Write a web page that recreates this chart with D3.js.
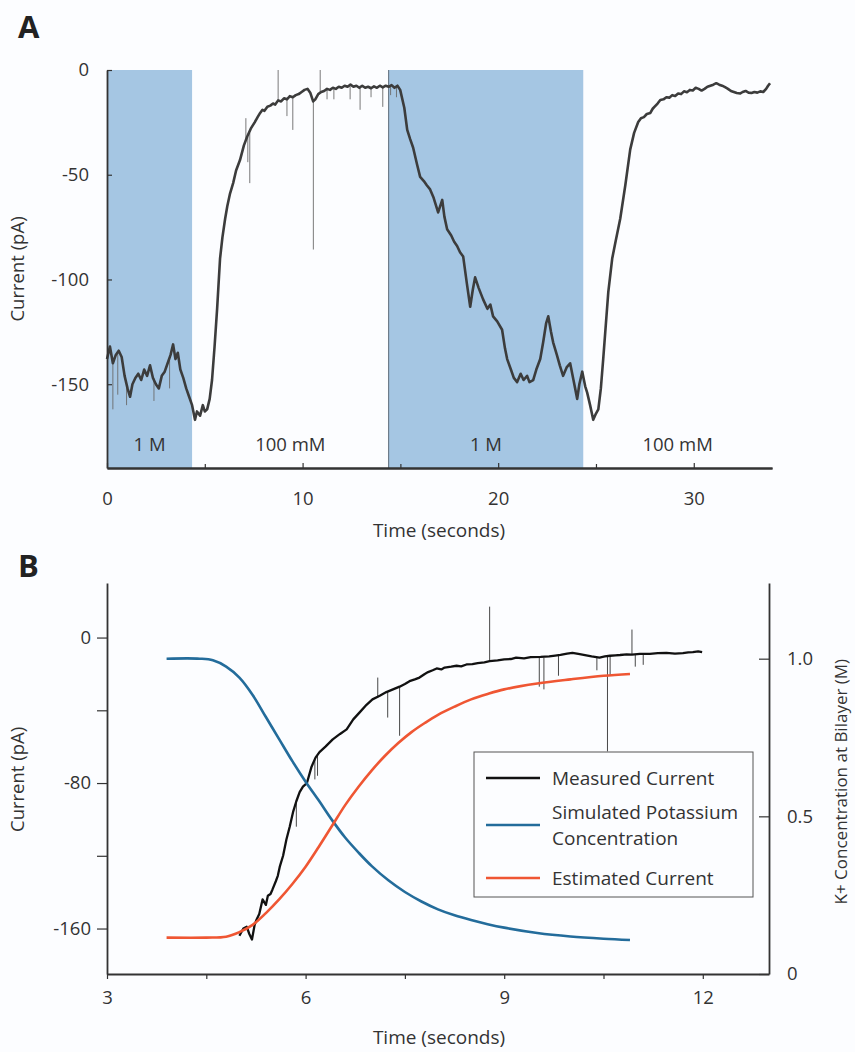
<!DOCTYPE html>
<html>
<head>
<meta charset="utf-8">
<script src="https://cdn.jsdelivr.net/npm/d3@7"></script>
<style>
  body { margin: 0; background: #fcfdff; }
  svg { display: block; font-family: "Open Sans", sans-serif; }
</style>
</head>
<body>
<svg id="chart"></svg>
<script>
// ---- Panel A data (time s, current pA) ----
const traceA = [
  [0.0,-138],[0.15,-132],[0.3,-140],[0.45,-136],[0.6,-134],[0.75,-137],[0.9,-146],[1.05,-152],
  [1.18,-156],[1.3,-150],[1.45,-147],[1.6,-145],[1.75,-148],[1.9,-143],[2.05,-146],[2.2,-141],
  [2.35,-147],[2.5,-150],[2.65,-152],[2.8,-146],[2.95,-144],[3.1,-140],[3.25,-136],[3.38,-131],
  [3.5,-138],[3.62,-135],[3.75,-143],[3.9,-147],[4.05,-152],[4.2,-156],[4.35,-160],[4.5,-167],
  [4.6,-163],[4.76,-165],[4.9,-160],[5.0,-163],[5.12,-162],[5.25,-157],[5.37,-148],[5.5,-132],
  [5.63,-114],[5.78,-90],[5.9,-80],[6.04,-71],[6.15,-65],[6.29,-59],[6.45,-54],[6.6,-48],
  [6.8,-43],[7.0,-36],[7.16,-32],[7.35,-28],[7.55,-25],[7.7,-22.5],
  [7.83,-20.5],[7.95,-19],[8.05,-19.5],[8.2,-17.5],[8.35,-17],[8.49,-16],[8.6,-16.5],[8.75,-14.5],
  [8.9,-15],[9.05,-13.5],[9.2,-14],[9.35,-12.5],[9.5,-13],[9.65,-12],[9.8,-11.5],[9.95,-10.5],
  [10.1,-9.5],[10.25,-9],[10.4,-11],[10.54,-15],[10.65,-14],[10.8,-11.5],[10.95,-10.5],[11.1,-10],
  [11.25,-9],[11.4,-9.5],[11.55,-8.5],[11.7,-9],[11.85,-8],[12.0,-8.5],[12.15,-7.5],[12.3,-8],
  [12.45,-7],[12.6,-8],[12.75,-7.5],[12.9,-8.5],[13.05,-7.5],[13.2,-8.5],[13.35,-8],[13.5,-8.7],
  [13.65,-7.8],[13.8,-8.5],[13.95,-7.5],[14.1,-8.3],[14.25,-7.5],[14.4,-8],[14.55,-7.2],[14.7,-8.5],
  [14.85,-7.5],[14.99,-9.5],[15.2,-18],[15.35,-28.6],[15.5,-33],[15.65,-37],[15.85,-45],
  [16.01,-51],[16.2,-53],[16.35,-55],[16.52,-57],[16.7,-61],[16.93,-68],[17.14,-62],[17.25,-70],
  [17.39,-76],[17.6,-79],[17.75,-82],[17.9,-84],[18.05,-87],[18.21,-89],[18.4,-102],[18.57,-113],
  [18.7,-105],[18.82,-99],[19.0,-104],[19.23,-109.5],[19.45,-114],[19.6,-112],[19.74,-117.6],[19.95,-120],
  [20.2,-124],[20.35,-133],[20.46,-138],[20.65,-143],[20.8,-147],[20.97,-149],[21.15,-145],[21.3,-148],
  [21.48,-146],[21.6,-149],[21.79,-148],[21.95,-143],[22.15,-138],[22.3,-130],[22.45,-121],[22.56,-117.6],
  [22.7,-125],[22.81,-130],[23.0,-136],[23.15,-141],[23.32,-146],[23.5,-142],[23.68,-140],[23.85,-148],
  [24.04,-157],[24.15,-150],[24.3,-144],[24.45,-151],[24.55,-154],[24.7,-160],[24.86,-167],[25.0,-164],
  [25.12,-162],[25.25,-152],[25.37,-138],[25.5,-122],[25.63,-106],[25.83,-90],[26.0,-82],[26.24,-71],
  [26.5,-55],[26.75,-38],[26.95,-30],[27.16,-24.8],[27.3,-23],[27.45,-22.5],[27.6,-21],[27.78,-20.5],
  [27.9,-18.5],[28.0,-17.5],[28.15,-16],[28.29,-14.3],[28.45,-14],[28.6,-13],[28.75,-13.2],[28.9,-12],
  [29.05,-12.4],[29.2,-11.2],[29.35,-11.5],[29.5,-10.2],[29.65,-10.6],[29.8,-9.5],[29.95,-9.8],[30.1,-8.5],
  [30.25,-9],[30.4,-9.8],[30.55,-9],[30.7,-8],[30.85,-7.5],[31.0,-7],[31.15,-6.3],[31.3,-7],
  [31.45,-7.5],[31.6,-8.2],[31.75,-9],[31.9,-10],[32.05,-10.5],[32.2,-11],[32.38,-11.2],[32.5,-10.5],
  [32.65,-10],[32.8,-10.8],[32.95,-11],[33.1,-10.5],[33.25,-10.8],[33.4,-10.2],[33.55,-10.5],[33.7,-9],
  [33.8,-7.5],[33.9,-6.3]
];
// spikes: [time, from, to]
const spikesA = [
  [0.3,-138,-162],[0.55,-135,-155],[1.0,-150,-160],[2.4,-147,-158],[3.2,-138,-152],
  [7.1,-33,-23],[7.3,-30,-54],[7.2,-32,-44],[8.75,-15,0],[9.2,-14,-22],[9.5,-13,-28.6],
  [10.55,-15,-85.7],[10.9,-11,0],[11.25,-9.5,-14],[11.6,-9,-14],[12.43,-8,-14],[12.94,-7.5,-19],
  [13.5,-8,-13],[14.1,-8,-17.6],[14.5,-7.8,-12],[14.8,-8,-13]
];
const regionsA = [[0, 4.35], [14.4, 24.35]];
const regionLabels = [["1 M", 0, 4.35], ["100 mM", 4.35, 14.4], ["1 M", 14.4, 24.35], ["100 mM", 24.35, 34]];
const yTicksA = [0, -50, -100, -150];
const xTicksA = [0, 10, 20, 30];
const xMinorA = [5, 15, 25];

// ---- Panel B data ----
const measuredB = [
  [5.0,-164],[5.06,-160],[5.11,-159],[5.15,-163],[5.19,-166],[5.23,-158],[5.26,-155],[5.3,-152],
  [5.35,-144],[5.4,-147],[5.43,-142],[5.47,-141],[5.5,-138.5],[5.55,-134],[5.58,-131],[5.61,-126],
  [5.66,-120],[5.71,-111],[5.76,-104],[5.81,-96],[5.86,-90],[5.91,-85],[5.96,-82],[6.02,-80],
  [6.09,-71],[6.15,-66],[6.21,-63],[6.3,-60],[6.41,-56],[6.52,-53],[6.62,-50.5],[6.72,-45],
  [6.82,-41],[6.92,-37],[7.01,-34],[7.12,-32],[7.22,-30],[7.32,-28.5],[7.42,-27],[7.5,-25.5],
  [7.57,-24],[7.65,-23],[7.72,-22],[7.8,-20],[7.85,-19],[7.92,-18],[7.98,-17],[8.05,-17.5],
  [8.1,-16.5],[8.2,-16],[8.28,-15.5],[8.35,-15.8],[8.43,-14.8],[8.52,-14.6],[8.6,-14],[8.7,-13.6],
  [8.78,-13],[8.9,-12.6],[9.0,-12],[9.1,-11.8],[9.18,-11],[9.3,-11.4],[9.4,-10.8],[9.55,-10.6],
  [9.68,-10.3],[9.77,-9.9],[9.85,-9.5],[9.95,-8.8],[10.03,-8.4],[10.12,-9],[10.2,-9.5],[10.32,-10.4],
  [10.44,-11],[10.52,-10.4],[10.6,-10],[10.68,-9.8],[10.75,-9.6],[10.85,-9.2],[10.93,-9.4],[11.05,-9],
  [11.2,-9],[11.32,-8.6],[11.45,-8.4],[11.58,-8.8],[11.7,-8.6],[11.78,-8.2],[11.85,-8],[11.93,-7.6],[11.99,-8]
];
const spikesB = [
  [5.86,-90,-104],[6.14,-67,-78],[6.18,-65,-76],[7.09,-33,-22],[7.24,-30,-44],[7.42,-27,-54],
  [8.78,-13,17],[9.53,-11,-27],[9.6,-11,-28.5],[9.82,-10,-21],[10.4,-11,-18],[10.56,-10,-62.6],
  [10.6,-10,-21],[10.93,-9.4,4.4],[10.98,-9.4,-16],[11.1,-9,-15]
];
const concB = [
  [3.9,1.0],[4.4,1.0],[4.6,0.995],[4.8,0.975],[5.0,0.94],[5.2,0.885],[5.4,0.815],[5.6,0.745],
  [5.8,0.675],[6.0,0.61],[6.2,0.55],[6.4,0.488],[6.6,0.432],[6.8,0.385],[7.0,0.342],[7.25,0.297],
  [7.5,0.26],[7.75,0.23],[8.0,0.205],[8.25,0.186],[8.5,0.171],[8.75,0.158],[9.0,0.147],[9.5,0.13],
  [10.0,0.119],[10.5,0.112],[10.9,0.108]
];
const estimatedB = [
  [3.9,-165],[4.5,-165],[4.8,-164.5],[5.0,-162],[5.2,-158],[5.4,-151.5],[5.6,-144],[5.8,-135.5],
  [6.0,-126],[6.2,-115],[6.4,-103.5],[6.6,-92],[6.8,-82],[7.0,-73],[7.2,-65],[7.4,-58],
  [7.6,-52],[7.8,-47],[8.0,-42.5],[8.25,-38],[8.5,-34],[8.75,-31],[9.0,-28.5],[9.5,-25.3],
  [10.0,-23],[10.5,-21],[10.9,-20]
];
const yTicksB = [0, -40, -80, -120, -160];
const yLabelsB = [0, -80, -160];
const xTicksB = [3, 4.5, 6, 7.5, 9, 10.5, 12];
const xLabelsB = [3, 6, 9, 12];
const cTicksB = [0, 0.5, 1.0];
const legendItems = [["Measured Current"], ["Simulated Potassium", "Concentration"], ["Estimated Current"]];

const width = 855, height = 1052;
const ink = "#333";
const colBlack = "#111", colBlue = "#236c9b", colRed = "#ef5633", colShade = "#a5c6e3";

const svg = d3.select("#chart")
  .attr("width", width)
  .attr("height", height)
  .attr("viewBox", [0, 0, width, height]);

svg.append("rect").attr("width", width).attr("height", height).attr("fill", "#fcfdff");

function styleAxis(g) {
  g.select(".domain").attr("stroke", ink).attr("stroke-width", 1.8);
  g.selectAll(".tick line").attr("stroke", ink).attr("stroke-width", 1.2);
  g.selectAll(".tick text").attr("fill", ink).attr("font-size", 18.5).attr("font-family", "Open Sans");
}

// ================= Panel A =================
const xA = d3.scaleLinear([0, 34], [107, 772]);
const yA = d3.scaleLinear([-190, 0], [468, 70]);

svg.append("g").selectAll("rect")
  .data(regionsA)
  .join("rect")
  .attr("x", d => xA(d[0]))
  .attr("y", yA(0))
  .attr("width", d => xA(d[1]) - xA(d[0]))
  .attr("height", yA(-190) - yA(0))
  .attr("fill", colShade);

// thin edge at the start of the second exchange
svg.append("line")
  .attr("x1", xA(regionsA[1][0])).attr("x2", xA(regionsA[1][0]))
  .attr("y1", yA(0)).attr("y2", yA(-190))
  .attr("stroke", "#5d6b78").attr("stroke-width", 1);

svg.append("g").selectAll("text")
  .data(regionLabels)
  .join("text")
  .attr("x", d => xA((d[1] + d[2]) / 2))
  .attr("y", 451)
  .attr("text-anchor", "middle")
  .attr("font-size", 18.5)
  .attr("fill", ink)
  .text(d => d[0]);

svg.append("g").selectAll("line")
  .data(spikesA)
  .join("line")
  .attr("x1", d => xA(d[0])).attr("x2", d => xA(d[0]))
  .attr("y1", d => yA(d[1])).attr("y2", d => yA(d[2]))
  .attr("stroke", "#6b6b6b").attr("stroke-width", 0.9);

svg.append("path")
  .datum(traceA)
  .attr("fill", "none")
  .attr("stroke", "#3c3c3c")
  .attr("stroke-width", 2.6)
  .attr("stroke-linejoin", "round")
  .attr("d", d3.line(d => xA(d[0]), d => yA(d[1])));

svg.append("g")
  .attr("transform", `translate(${xA(0)},0)`)
  .call(d3.axisLeft(yA).tickValues(yTicksA).tickSize(-5).tickSizeOuter(0).tickPadding(18).tickFormat(d => String(d)))
  .call(styleAxis);

svg.append("g")
  .attr("transform", `translate(0,${yA(-190)})`)
  .call(d3.axisBottom(xA).tickValues(xMinorA).tickSize(-4).tickSizeOuter(0).tickFormat(""))
  .call(styleAxis);

svg.append("g")
  .attr("transform", `translate(0,${yA(-190)})`)
  .call(d3.axisBottom(xA).tickValues(xTicksA).tickSize(-5).tickSizeOuter(0).tickPadding(24).tickFormat(d => String(d)))
  .call(styleAxis);

svg.append("text")
  .attr("x", 439).attr("y", 537)
  .attr("text-anchor", "middle").attr("font-size", 19).attr("fill", ink)
  .text("Time (seconds)");

svg.append("text")
  .attr("transform", `translate(24,${yA(-95)}) rotate(-90)`)
  .attr("text-anchor", "middle").attr("font-size", 18.5).attr("fill", ink)
  .text("Current (pA)");

svg.append("text")
  .attr("x", 18).attr("y", 38)
  .attr("font-size", 31).attr("font-weight", 700).attr("fill", "#222")
  .text("A");

// ================= Panel B =================
const xB = d3.scaleLinear([3, 13], [107, 769]);
const yB = d3.scaleLinear([-185, 30], [974, 583]);
const cB = d3.scaleLinear([0, 1.24], [974, 583]);

svg.append("g").selectAll("line")
  .data(spikesB)
  .join("line")
  .attr("x1", d => xB(d[0])).attr("x2", d => xB(d[0]))
  .attr("y1", d => yB(d[1])).attr("y2", d => yB(d[2]))
  .attr("stroke", "#333").attr("stroke-width", 0.9);

svg.append("path")
  .datum(measuredB)
  .attr("fill", "none")
  .attr("stroke", colBlack)
  .attr("stroke-width", 2.3)
  .attr("stroke-linejoin", "round")
  .attr("d", d3.line(d => xB(d[0]), d => yB(d[1])));

svg.append("path")
  .datum(concB)
  .attr("fill", "none")
  .attr("stroke", colBlue)
  .attr("stroke-width", 2.6)
  .attr("d", d3.line(d => xB(d[0]), d => cB(d[1])).curve(d3.curveCatmullRom));

svg.append("path")
  .datum(estimatedB)
  .attr("fill", "none")
  .attr("stroke", colRed)
  .attr("stroke-width", 2.6)
  .attr("d", d3.line(d => xB(d[0]), d => yB(d[1])).curve(d3.curveCatmullRom));

svg.append("g")
  .attr("transform", `translate(${xB(3)},0)`)
  .call(d3.axisLeft(yB).tickValues(yTicksB).tickSize(10).tickSizeOuter(0).tickPadding(6)
    .tickFormat(d => yLabelsB.includes(d) ? String(d) : ""))
  .call(styleAxis);

svg.append("g")
  .attr("transform", `translate(${xB(13)},0)`)
  .call(d3.axisRight(cB).tickValues(cTicksB).tickSize(-10).tickSizeOuter(0).tickPadding(18)
    .tickFormat(d => d === 0 ? "0" : d3.format(".1f")(d)))
  .call(styleAxis);

svg.append("g")
  .attr("transform", `translate(0,${yB(-185)})`)
  .call(d3.axisBottom(xB).tickValues(xTicksB).tickSize(5).tickSizeOuter(0).tickPadding(12)
    .tickFormat(d => xLabelsB.includes(d) ? String(d) : ""))
  .call(styleAxis);

svg.append("text")
  .attr("x", 439).attr("y", 1044)
  .attr("text-anchor", "middle").attr("font-size", 19).attr("fill", ink)
  .text("Time (seconds)");

svg.append("text")
  .attr("transform", `translate(24,${yB(-78)}) rotate(-90)`)
  .attr("text-anchor", "middle").attr("font-size", 18.5).attr("fill", ink)
  .text("Current (pA)");

svg.append("text")
  .attr("transform", `translate(847,${cB(0.61)}) rotate(-90)`)
  .attr("text-anchor", "middle").attr("font-size", 17).attr("fill", ink)
  .text("K+ Concentration at Bilayer (M)");

svg.append("text")
  .attr("x", 18).attr("y", 577)
  .attr("font-size", 31).attr("font-weight", 700).attr("fill", "#222")
  .text("B");

// legend
const legend = svg.append("g").attr("transform", "translate(474,752)");
legend.append("rect")
  .attr("width", 279).attr("height", 145)
  .attr("fill", "#fcfdff").attr("stroke", "#555").attr("stroke-width", 1);

const legendColors = [colBlack, colBlue, colRed];
const legendY = [26, 73, 126];
legendItems.forEach((lines, i) => {
  legend.append("line")
    .attr("x1", 12).attr("x2", 66)
    .attr("y1", legendY[i]).attr("y2", legendY[i])
    .attr("stroke", legendColors[i]).attr("stroke-width", 2.6);
  const t = legend.append("text")
    .attr("x", 78)
    .attr("y", legendY[i] + 7 - (lines.length - 1) * 13)
    .attr("font-size", 19).attr("fill", ink);
  lines.forEach((s, j) => t.append("tspan").attr("x", 78).attr("dy", j ? 26 : 0).text(s));
});
</script>
</body>
</html>
